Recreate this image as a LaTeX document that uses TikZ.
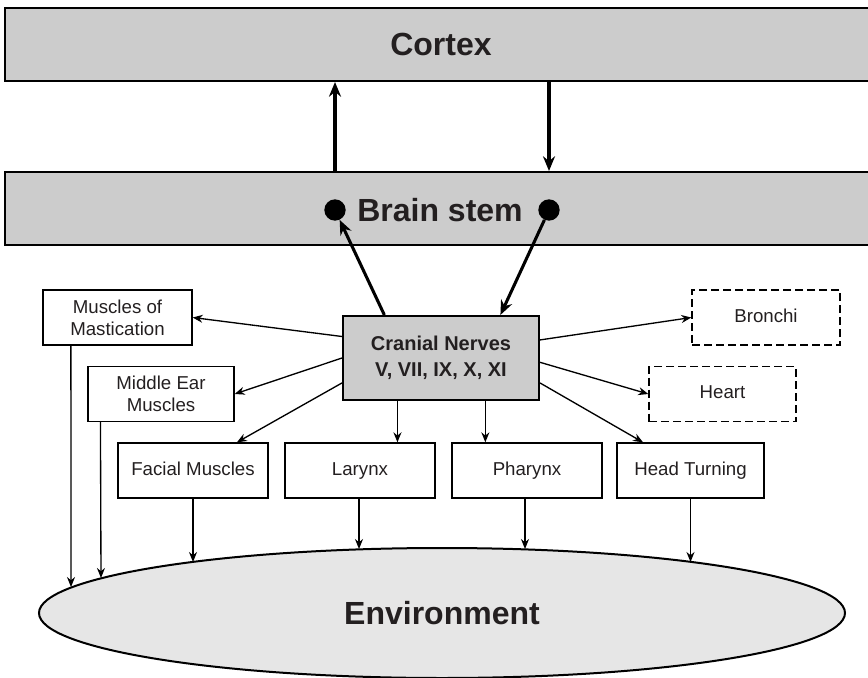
\documentclass[tikz,border=0pt]{standalone}
\usepackage{fontspec}
\setmainfont{Liberation Sans}
\usetikzlibrary{shapes.geometric,arrows.meta,calc}
\definecolor{barg}{HTML}{CCCCCC}
\definecolor{envg}{HTML}{E6E6E6}
\definecolor{ink}{HTML}{231F20}
\begin{document}
\begin{tikzpicture}[x=0.75pt,y=-0.75pt,
  bigbar/.style={draw=black, line width=1.5pt, fill=barg, minimum width=654pt, minimum height=54.75pt, inner sep=0pt, text=ink, font=\fontsize{24}{28}\selectfont\bfseries},
  smallbox/.style={draw=black, line width=1pt, minimum width=111pt, minimum height=41.25pt, inner sep=0pt, align=center, text=ink, font=\fontsize{14}{16.5}\selectfont},
  oneline/.style={text height=10.2pt, text depth=2.9pt},
  dashbox/.style={smallbox, dash pattern=on 6pt off 3pt},
  cranbox/.style={draw=black, line width=1.5pt, fill=barg, minimum width=147pt, minimum height=63pt, inner sep=0pt, align=center, text=ink, font=\fontsize{15}{19.5}\selectfont\bfseries},
  dot/.style={circle, fill=black, inner sep=0pt, minimum size=16pt},
  thinarrow/.style={line width=1pt, -{Stealth[length=7.5pt,width=6pt]}},
  thickarrow/.style={line width=2.3pt, -{Stealth[length=11pt,width=9pt]}}
]
\useasboundingbox (0,0) rectangle (868,678);

% bars
\node[bigbar] (cortex) at (441,44.5) {Cortex};
\node[bigbar] (bstem) at (441,208.5) {};
\node[text=ink, font=\fontsize{24}{28}\selectfont\bfseries] (bstxt) at (440,210) {Brain stem};
\node[dot] (dL) at (335,210) {};
\node[dot] (dR) at (549,210) {};

% environment
\node[ellipse, draw=black, line width=1.5pt, fill=envg, minimum width=604.5pt, minimum height=97.5pt, inner sep=0pt, text=ink, font=\fontsize{24}{28}\selectfont\bfseries] (env) at (442,613) {Environment};

% cranial nerves
\node[cranbox] (cran) at (441,358) {Cranial Nerves\\V, VII, IX, X, XI};

% boxes
\node[smallbox, minimum width=111.75pt] (mast) at (117.5,317.5) {Muscles of\\Mastication};
\node[smallbox, minimum width=109.5pt] (mid) at (161,394) {Middle Ear\\Muscles};
\node[dashbox, oneline] (bron) at (766,317.5) {Bronchi};
\node[dashbox, oneline, minimum width=110.25pt] (heart) at (722.5,394) {Heart};
\node[smallbox, oneline, minimum width=112.5pt] (facial) at (193,470.5) {Facial Muscles};
\node[smallbox, oneline, minimum width=112.5pt] (larynx) at (360,470.5) {Larynx};
\node[smallbox, oneline, minimum width=112.5pt] (pharynx) at (527,470.5) {Pharynx};
\node[smallbox, oneline, minimum width=110.25pt] (head) at (690.5,470.5) {Head Turning};

% cortex <-> brain stem
\draw[thickarrow] (bstem.north -| dL) -- (cortex.south -| dL);
\draw[thickarrow] (cortex.south -| dR) -- (bstem.north -| dR);

% brain stem <-> cranial
\draw[thickarrow] ($(cran.north west)!0.214!(cran.north east)$) -- (dL);
\draw[thickarrow] (dR) -- ($(cran.north west)!0.80!(cran.north east)$);

% cranial to targets
\draw[thinarrow] ($(cran.north west)!0.25!(cran.south west)$) -- (mast.east);
\draw[thinarrow] (cran.west) -- (mid.east);
\draw[thinarrow] ($(cran.north west)!0.79!(cran.south west)$) -- ($(facial.north west)!0.79!(facial.north east)$);
\coordinate (lx) at ($(cran.south west)!0.28!(cran.south east)$);
\coordinate (px) at ($(cran.south west)!0.724!(cran.south east)$);
\draw[thinarrow] (lx) -- (lx |- larynx.north);
\draw[thinarrow] (px) -- (px |- pharynx.north);
\draw[thinarrow] ($(cran.north east)!0.79!(cran.south east)$) -- ($(head.north west)!0.18!(head.north east)$);
\draw[thinarrow] ($(cran.north east)!0.55!(cran.south east)$) -- (heart.west);
\draw[thinarrow] ($(cran.north east)!0.29!(cran.south east)$) -- (bron.west);

% to environment
\coordinate (m1) at ($(mast.south west)!0.19!(mast.south east)$);
\coordinate (e1) at (71,587);
\draw[thinarrow] (m1) -- (e1);
\coordinate (m2) at ($(mid.south west)!0.089!(mid.south east)$);
\coordinate (e2) at (101,578);
\draw[thinarrow] (m2) -- (e2);
\coordinate (e3) at (193,562);
\draw[thinarrow] (facial.south) -- (e3);
\coordinate (e4) at (359,549);
\draw[thinarrow] (larynx.south -| e4) -- (e4);
\coordinate (e5) at (525,549);
\draw[thinarrow] (pharynx.south -| e5) -- (e5);
\coordinate (e6) at (690.5,562);
\draw[thinarrow] (head.south) -- (e6);
\end{tikzpicture}
\end{document}
